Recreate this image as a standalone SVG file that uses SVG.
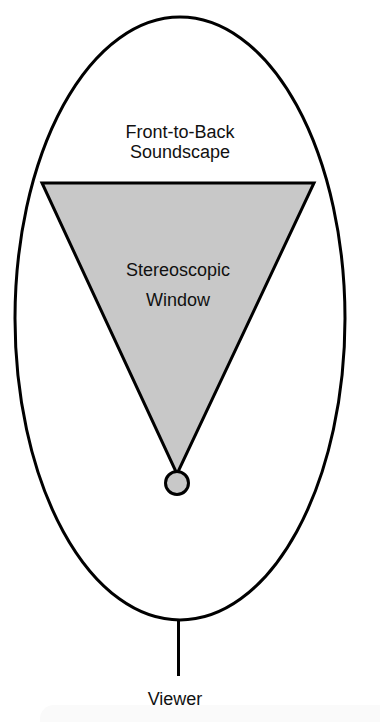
<svg xmlns="http://www.w3.org/2000/svg" width="380" height="722" viewBox="0 0 380 722">
<style>
.ln{stroke:#000;stroke-width:3;fill:none}
.sh{fill:#c8c8c8;stroke:#000;stroke-width:3;stroke-linejoin:miter}
.t{font-family:"Liberation Sans",Arial,sans-serif;font-size:18px;fill:#111;text-anchor:middle}
</style>
<rect width="380" height="722" fill="#fff"/>
<rect x="40" y="705" width="360" height="30" rx="14" fill="#fafafa"/>
<g id="soundscape">
<ellipse class="ln" cx="180" cy="318.5" rx="165" ry="301.5" fill="#fff"/>
<text class="t" x="180" y="138">Front-to-Back</text>
<text class="t" x="180" y="158">Soundscape</text>
</g>
<g id="window">
<polygon class="sh" points="42,183 314,183 177,474"/>
<text class="t" x="178" y="276">Stereoscopic</text>
<text class="t" x="178" y="306">Window</text>
</g>
<g id="eye">
<circle class="sh" cx="177" cy="483" r="11.5"/>
</g>
<g id="connectors">
<line class="ln" x1="178.5" y1="620" x2="178.5" y2="676" stroke-width="2"/>
</g>
<g id="viewer">
<text class="t" x="175" y="705">Viewer</text>
</g>
</svg>
